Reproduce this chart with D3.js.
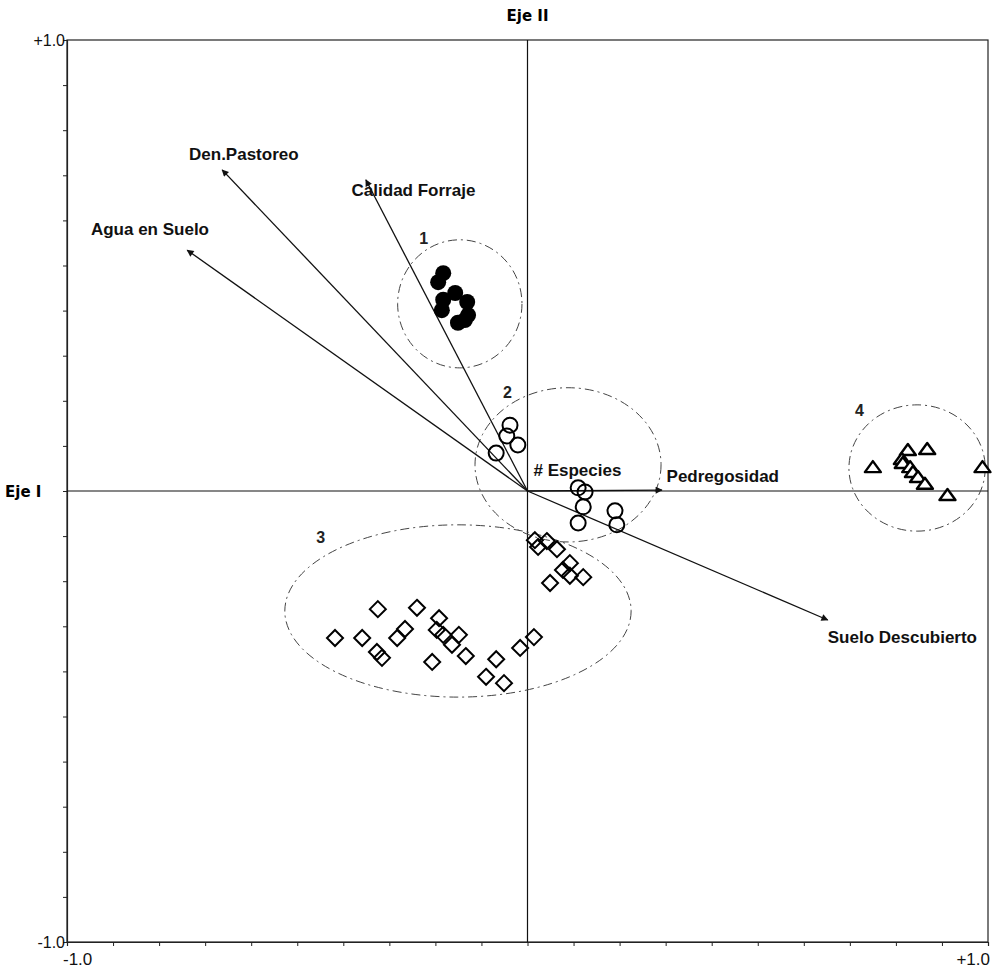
<!DOCTYPE html>
<html><head><meta charset="utf-8">
<script src="https://cdn.jsdelivr.net/npm/d3@7"></script>
<style>body{margin:0;background:#fff;} svg{display:block;font-family:"Liberation Sans",Arial,sans-serif;}</style>
</head><body>
<script>
// ---- data ----
const group1 = [[-0.183,0.483],[-0.194,0.463],[-0.157,0.439],[-0.183,0.424],[-0.131,0.419],[-0.186,0.401],[-0.129,0.390],[-0.151,0.373],[-0.136,0.379]];
const group2 = [[-0.038,0.146],[-0.045,0.122],[-0.021,0.102],[-0.068,0.084],[0.110,0.007],[0.125,-0.002],[0.121,-0.035],[0.110,-0.071],[0.190,-0.044],[0.194,-0.075]];
const group3 = [[0.016,-0.109],[0.023,-0.124],[0.042,-0.111],[0.064,-0.129],[0.092,-0.160],[0.077,-0.175],[0.092,-0.188],[0.121,-0.191],[0.049,-0.204],
  [-0.325,-0.262],[-0.240,-0.259],[-0.192,-0.282],[-0.418,-0.326],[-0.359,-0.326],[-0.266,-0.306],[-0.283,-0.326],[-0.197,-0.308],[-0.183,-0.319],
  [-0.149,-0.319],[-0.164,-0.341],[-0.327,-0.357],[-0.316,-0.370],[-0.207,-0.379],[-0.134,-0.366],[-0.068,-0.373],[-0.090,-0.412],[-0.051,-0.426],
  [-0.016,-0.348],[0.014,-0.324]];
const group4 = [[0.750,0.053],[0.826,0.091],[0.868,0.093],[0.813,0.071],[0.815,0.062],[0.831,0.053],[0.837,0.042],[0.848,0.031],[0.863,0.016],[0.912,-0.009],[0.988,0.053]];

const vectorNames = ["Agua en Suelo","Den.Pastoreo","Calidad Forraje","Pedregosidad","Suelo Descubierto"];
const vectorX = [-0.739,-0.663,-0.351,0.292,0.652];
const vectorY = [0.534,0.712,0.690,0.002,-0.286];

const groupNames = ["1","2","3","4"];
const ellipseCX = [-0.147,0.088,-0.151,0.846];
const ellipseCY = [0.415,0.058,-0.266,0.051];
const ellipseRX = [0.135,0.202,0.376,0.148];
const ellipseRY = [0.142,0.171,0.191,0.140];

const tickValues = d3.range(-10,11).map(i=>i/10);
const endTickLabels = ["-1.0","+1.0"];
const axisTitles = ["Eje I","Eje II"];

// ---- layout ----
const W=1000,H=971;
const L=67,R=988,T=40,B=942;
const x=d3.scaleLinear().domain([-1,1]).range([L,R]);
const y=d3.scaleLinear().domain([-1,1]).range([B,T]);
const svg=d3.select("body").append("svg").attr("width",W).attr("height",H);

// frame
svg.append("rect").attr("x",L).attr("y",T).attr("width",R-L).attr("height",B-T)
  .attr("fill","none").attr("stroke","#222").attr("stroke-width",1.2);

// axes with ticks
const gl=svg.append("g").attr("transform",`translate(${L},0)`)
  .call(d3.axisLeft(y).tickValues(tickValues).tickSize(4).tickFormat(""));
const gb=svg.append("g").attr("transform",`translate(0,${B})`)
  .call(d3.axisBottom(x).tickValues(tickValues).tickSize(4).tickFormat(""));
[gl,gb].forEach(g=>{g.select(".domain").attr("stroke","#222").attr("stroke-width",1.2);g.selectAll(".tick line").attr("stroke","#222");});

// center lines
svg.append("line").attr("x1",x(0)).attr("x2",x(0)).attr("y1",T).attr("y2",B).attr("stroke","#111").attr("stroke-width",1.2);
svg.append("line").attr("x1",L).attr("x2",R).attr("y1",y(0)).attr("y2",y(0)).attr("stroke","#111").attr("stroke-width",1.2);

// tick labels
const tl=svg.append("g").attr("fill","#111");
tl.append("text").attr("font-size",16).attr("x",L-2).attr("y",y(1)+6).attr("text-anchor","end").text(endTickLabels[1]);
tl.append("text").attr("font-size",16).attr("x",L-2).attr("y",y(-1)+6).attr("text-anchor","end").text(endTickLabels[0]);
tl.append("text").attr("font-size",17).attr("x",x(-1)).attr("y",B+23).attr("text-anchor","start").attr("dx",-4).text(endTickLabels[0]);
tl.append("text").attr("font-size",17).attr("x",x(1)).attr("y",B+23).attr("text-anchor","end").attr("dx",2).text(endTickLabels[1]);

// axis titles
svg.append("text").attr("x",x(0)).attr("y",21).attr("text-anchor","middle").attr("font-family","DejaVu Sans").attr("font-weight","bold").attr("font-size",15).text(axisTitles[1]);
svg.append("text").attr("x",5).attr("y",y(0)+6).attr("text-anchor","start").attr("font-family","DejaVu Sans").attr("font-weight","bold").attr("font-size",15).text(axisTitles[0]);

// ellipses
const eg=svg.append("g");
groupNames.forEach((g,i)=>{
  eg.append("ellipse").attr("cx",x(ellipseCX[i])).attr("cy",y(ellipseCY[i]))
    .attr("rx",x(ellipseRX[i])-x(0)).attr("ry",y(0)-y(ellipseRY[i]))
    .attr("fill","none").attr("stroke","#444").attr("stroke-width",1).attr("stroke-dasharray","9,4,2,4");
});
// group labels
const glabPos=[[-0.235,0.548],[-0.053,0.206],[-0.459,-0.115],[0.711,0.166]];
groupNames.forEach((g,i)=>{
  svg.append("text").attr("x",x(glabPos[i][0])).attr("y",y(glabPos[i][1])).attr("font-size",16).attr("font-weight","bold").attr("fill","#222").text(g);
});

// vectors
const defs=svg.append("defs");
defs.append("marker").attr("id","ah").attr("viewBox","0 0 10 10").attr("refX",9).attr("refY",5)
  .attr("markerWidth",8).attr("markerHeight",7).attr("markerUnits","userSpaceOnUse").attr("orient","auto")
  .append("path").attr("d","M0,0L10,5L0,10z").attr("fill","#111");
vectorNames.forEach((n,i)=>{
  svg.append("line").attr("x1",x(0)).attr("y1",y(0)).attr("x2",x(vectorX[i])).attr("y2",y(vectorY[i]))
    .attr("stroke","#111").attr("stroke-width",1.3).attr("marker-end","url(#ah)");
});
// vector labels
const vlab=[[-0.948,0.568],[-0.735,0.735],[-0.382,0.654],[0.302,0.020],[0.652,-0.337]];
vectorNames.forEach((n,i)=>{
  svg.append("text").attr("x",x(vlab[i][0])).attr("y",y(vlab[i][1]))
    .attr("font-size",17).attr("font-weight","bold").attr("fill","#111").text(n);
});
svg.append("text").attr("x",x(0.013)).attr("y",y(0.033)).attr("font-size",17).attr("font-weight","bold").attr("fill","#111").text("# Especies");

// points
svg.append("g").selectAll("circle").data(group1).join("circle")
  .attr("cx",d=>x(d[0])).attr("cy",d=>y(d[1])).attr("r",8).attr("fill","#000");
svg.append("g").selectAll("circle").data(group2).join("circle")
  .attr("cx",d=>x(d[0])).attr("cy",d=>y(d[1])).attr("r",7.5).attr("fill","none").attr("stroke","#000").attr("stroke-width",2);
svg.append("g").selectAll("path").data(group3).join("path")
  .attr("transform",d=>`translate(${x(d[0])},${y(d[1])})`)
  .attr("d","M0,-8L8,0L0,8L-8,0Z").attr("fill","none").attr("stroke","#000").attr("stroke-width",2);
svg.append("g").selectAll("path").data(group4).join("path")
  .attr("transform",d=>`translate(${x(d[0])},${y(d[1])})`)
  .attr("d","M0,-6L8,5L-8,5Z").attr("fill","#fff").attr("stroke","#000").attr("stroke-width",2.4).attr("stroke-linejoin","round");
</script>
</body></html>
